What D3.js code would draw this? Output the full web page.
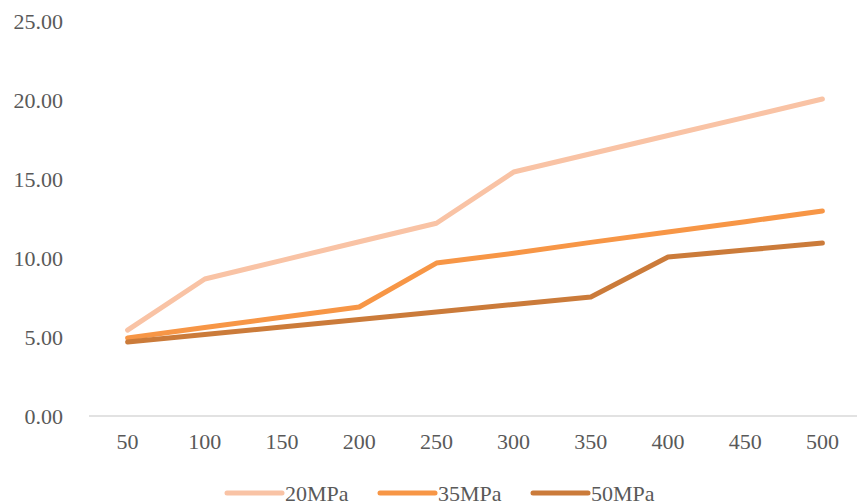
<!DOCTYPE html>
<html>
<head>
<meta charset="UTF-8">
<script src="https://d3js.org/d3.v7.min.js"></script>
<style>
  body { margin: 0; background: #fff; }
  svg text { font-family: "Liberation Serif", "Times New Roman", serif; fill: #595959; }
</style>
</head>
<body>
<div id="chart"></div>
<script>
const categories = [50, 100, 150, 200, 250, 300, 350, 400, 450, 500];
const s20 = [5.44, 8.67, 9.85, 11.03, 12.2, 15.44, 16.6, 17.75, 18.9, 20.06];
const s35 = [4.94, 5.6, 6.25, 6.9, 9.68, 10.3, 10.99, 11.65, 12.3, 12.97];
const s50 = [4.68, 5.16, 5.63, 6.11, 6.58, 7.06, 7.53, 10.06, 10.5, 10.95];
const seriesNames = ["20MPa", "35MPa", "50MPa"];
const colors = ["#F9C3A5", "#F79646", "#CB7B3A"];
const yTicks = [0, 5, 10, 15, 20, 25];

const W = 858, H = 504;
const svg = d3.select('#chart').append('svg').attr('width', W).attr('height', H);

const x = d3.scaleBand().domain(categories).range([89, 861]);
const y = d3.scaleLinear().domain([0, 25]).range([416, 21]);

// baseline
svg.append('line')
  .attr('x1', 89).attr('x2', 857)
  .attr('y1', y(0)).attr('y2', y(0))
  .attr('stroke', '#d9d9d9').attr('stroke-width', 1.3);

// y labels
svg.append('g').selectAll('text').data(yTicks).enter().append('text')
  .attr('x', 63).attr('y', d => y(d))
  .attr('dy', '0.35em').attr('text-anchor', 'end')
  .attr('font-size', 22)
  .text(d => d.toFixed(2));

// x labels
svg.append('g').selectAll('text').data(categories).enter().append('text')
  .attr('x', d => x(d) + x.bandwidth() / 2).attr('y', 441)
  .attr('dy', '0.35em').attr('text-anchor', 'middle')
  .attr('font-size', 22)
  .text(d => d);

const series = [s20, s35, s50];
const line = d3.line()
  .x((d, i) => x(categories[i]) + x.bandwidth() / 2)
  .y(d => y(d));

svg.append('g').selectAll('path').data(series).enter().append('path')
  .attr('d', d => line(d))
  .attr('fill', 'none')
  .attr('stroke', (d, i) => colors[i])
  .attr('stroke-width', 5)
  .attr('stroke-linecap', 'round')
  .attr('stroke-linejoin', 'round');

// legend
const legendX = [227, 380, 533];
const lg = svg.append('g').selectAll('g').data(seriesNames).enter().append('g')
  .attr('transform', (d, i) => `translate(${legendX[i]},493)`);
lg.append('line')
  .attr('x1', 0).attr('x2', 55).attr('y1', 0).attr('y2', 0)
  .attr('stroke', (d, i) => colors[i])
  .attr('stroke-width', 5).attr('stroke-linecap', 'round');
lg.append('text')
  .attr('x', 58).attr('y', 0).attr('dy', '0.35em')
  .attr('font-size', 22)
  .text(d => d);
</script>
</body>
</html>
